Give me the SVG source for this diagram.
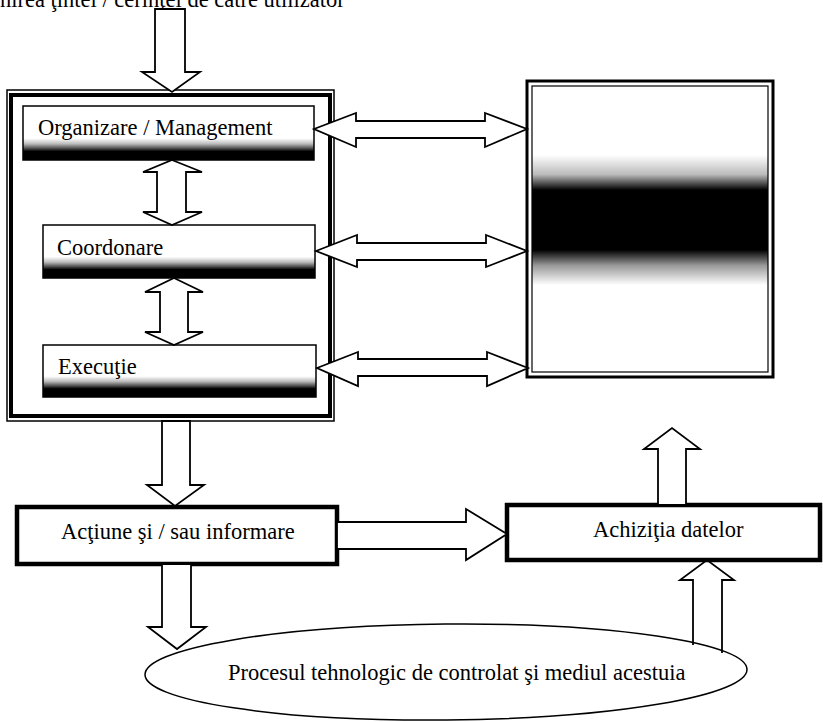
<svg xmlns="http://www.w3.org/2000/svg" width="823" height="722" viewBox="0 0 823 722">
<defs>
<linearGradient id="shade" x1="0" y1="0" x2="0" y2="1">
<stop offset="0" stop-color="#fff"/>
<stop offset="0.6" stop-color="#fff"/>
<stop offset="0.7" stop-color="#bbb"/>
<stop offset="0.78" stop-color="#555"/>
<stop offset="0.84" stop-color="#000"/>
<stop offset="1" stop-color="#000"/>
</linearGradient>
<linearGradient id="band" gradientUnits="userSpaceOnUse" x1="0" y1="155" x2="0" y2="285">
<stop offset="0" stop-color="#fff"/>
<stop offset="0.15" stop-color="#bbb"/>
<stop offset="0.27" stop-color="#000"/>
<stop offset="0.73" stop-color="#000"/>
<stop offset="0.85" stop-color="#999"/>
<stop offset="1" stop-color="#fff"/>
</linearGradient>
</defs>
<style>
text{font-family:"Liberation Serif","Times New Roman",serif;font-size:22.5px;fill:#000}
.arrow{fill:#fff;stroke:#000;stroke-width:1.8;stroke-linejoin:miter}
.thin{fill:none;stroke:#000;stroke-width:1.5}
.inner{fill:url(#shade);stroke:#000;stroke-width:1.5}
.bold{fill:#fff;stroke:#000;stroke-width:4.5}
</style>
<rect width="823" height="722" fill="#fff"/>

<g id="top-label">
<text x="-40" y="7">Definirea ţintei / cerinţei de către utilizator</text>
</g>

<g id="control-system">
<rect x="7" y="90" width="327" height="331" class="thin"/>
<rect x="11" y="95" width="319" height="321" fill="none" stroke="#000" stroke-width="4"/>
</g>

<g id="organizare">
<rect x="23" y="106" width="291" height="54" class="inner"/>
<text x="38" y="135">Organizare / Management</text>
</g>

<g id="coordonare">
<rect x="43" y="225" width="272" height="53" class="inner"/>
<text x="57" y="255">Coordonare</text>
</g>

<g id="executie">
<rect x="43" y="345" width="273" height="52" class="inner"/>
<text x="58" y="374">Execuţie</text>
</g>

<g id="database">
<rect x="527" y="81" width="246" height="296" fill="#fff" stroke="#000" stroke-width="3"/>
<rect x="532" y="86" width="236" height="286" fill="url(#band)" stroke="#000" stroke-width="1.2"/>
</g>

<g id="actiune">
<rect x="17" y="507" width="320" height="57" class="bold"/>
<text x="61" y="539">Acţiune şi / sau informare</text>
</g>

<g id="achizitia">
<rect x="507" y="505" width="313" height="55" class="bold"/>
<text x="593" y="537">Achiziţia datelor</text>
</g>

<g id="proces">
<ellipse cx="446" cy="672" rx="301" ry="48" transform="rotate(-0.5 446 672)" class="thin"/>
<text x="228" y="680">Procesul tehnologic de controlat şi mediul acestuia</text>
</g>

<g id="connectors">
<polygon class="arrow" points="155,9 185,9 185,72 200,72 172,92 142,72 155,72"/>
<polygon class="arrow" points="172,160 202,172 186,172 186,212 202,212 172,225 143,212 157,212 157,172 143,172"/>
<polygon class="arrow" points="174,278 203,292 188,292 188,332 203,332 174,345 145,332 160,332 160,292 145,292"/>
<polygon class="arrow" points="314,129 356,113 356,121 485,121 485,113 527,129 485,147 485,138 356,138 356,147"/>
<polygon class="arrow" points="316,251 357,235 357,243 486,243 486,235 527,251 486,267 486,260 357,260 357,267"/>
<polygon class="arrow" points="317,368 358,352 358,359 487,359 487,352 528,368 487,386 487,376 358,376 358,386"/>
<polygon class="arrow" points="162,421 190,421 190,485 204,485 175,506 147,485 162,485"/>
<polygon class="arrow" points="162,564 191,564 191,627 206,627 177,649 148,627 162,627"/>
<polygon class="arrow" points="337,522 466,522 466,509 507,534 466,560 466,549 337,549"/>
<polygon class="arrow" points="658,505 658,449 644,449 672,428 700,449 686,449 686,505"/>
<path d="M693,645 L693,580 L680,580 L707,560 L734,580 L722,580 L722,653" fill="none" stroke="#000" stroke-width="1.8"/>
</g>
</svg>
